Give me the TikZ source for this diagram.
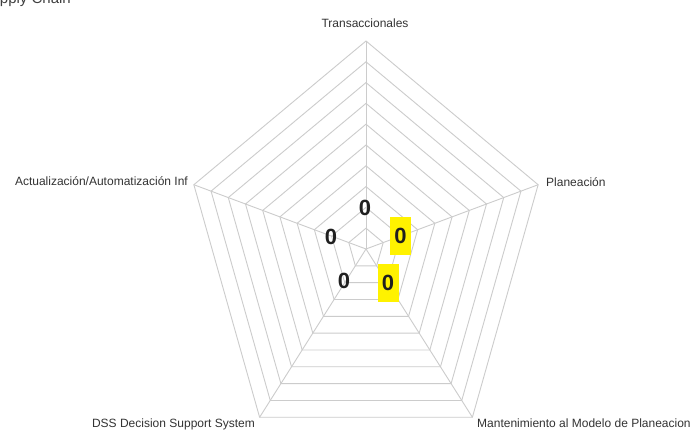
\documentclass[tikz,border=0pt]{standalone}
\usepackage{fontspec}
\setmainfont{Liberation Sans}
\begin{document}
\begin{tikzpicture}[x=1pt,y=-1pt,
  grid/.style={draw=black!20, line width=0.9pt},
  axislabel/.style={font=\fontsize{12}{14}\selectfont, text=black!80, inner sep=0pt},
  val/.style={font=\bfseries\fontsize{22}{24}\selectfont, text=black!88, inner sep=0pt},
  hl/.style={val, fill=yellow, minimum width=21pt, minimum height=38pt}]
\useasboundingbox (0,0) rectangle (691,433);
\clip (0,0) rectangle (691,433);
\fill[white] (0,0) rectangle (691,433);

% chart title, partly above the page edge
\node[font=\fontsize{15}{17}\selectfont, text=black!75, anchor=base east, inner sep=0pt] (title) at (71,4) {Supply Chain};

% centre and axis end points
\coordinate (C) at (366,249);
\foreach \k in {0,...,4}
  \coordinate (V\k) at ({366+181*cos(90+72*\k)},{249-208*sin(90+72*\k)});

% concentric pentagon rings
\foreach \i in {1,...,10}{
  \draw[grid] ({366+18.1*\i*cos(90)},{249-20.8*\i*sin(90)})
    \foreach \k in {1,...,4}{ -- ({366+18.1*\i*cos(90+72*\k)},{249-20.8*\i*sin(90+72*\k)}) } -- cycle;
}

% spokes
\foreach \k in {0,...,4} \draw[grid] (C) -- (V\k);

% axis labels
\node[axislabel, anchor=south] (lT) at (365,28) {Transaccionales};
\node[axislabel, anchor=east] (lL) at (188,181) {Actualización/Automatización Inf};
\node[axislabel, anchor=west] (lR) at (546,182) {Planeación};
\node[axislabel, anchor=east] (lBL) at (255,424) {DSS Decision Support System};
\node[axislabel, anchor=west] (lBR) at (477,423) {Mantenimiento al Modelo de Planeacion};

% data labels
\node[val] (d1) at (365,208) {0};
\node[val] (d2) at (331,237) {0};
\node[hl]  (d3) at (400.5,236) {0};
\node[val] (d4) at (344,281) {0};
\node[hl]  (d5) at (388,282.5) {0};
\end{tikzpicture}
\end{document}
